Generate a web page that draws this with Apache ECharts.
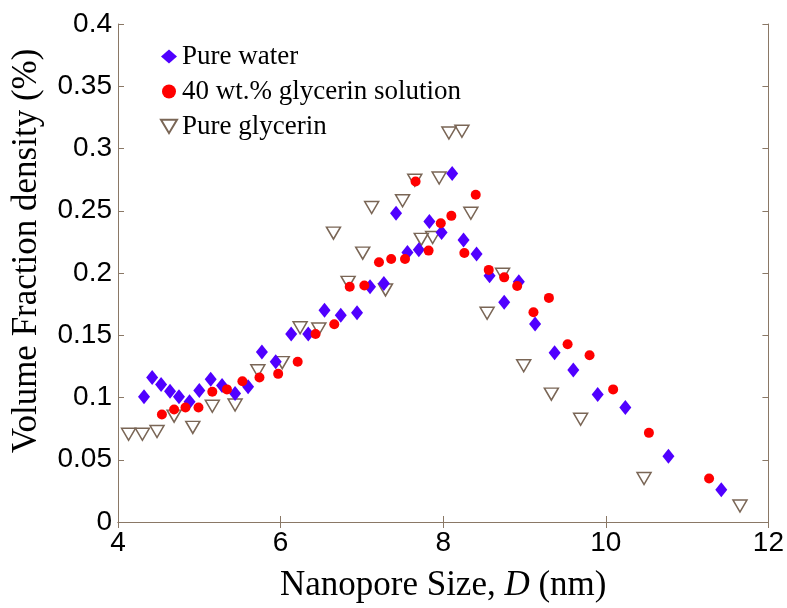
<!DOCTYPE html>
<html>
<head>
<meta charset="utf-8">
<script src="https://cdn.jsdelivr.net/npm/echarts@6/dist/echarts.min.js"></script>
<style>html,body{margin:0;padding:0;background:#fff;}#c{width:787px;height:608px;}</style>
</head>
<body>
<div id="c"></div>
<script>
const waterX = [4.32,4.42,4.53,4.64,4.75,4.88,5.00,5.14,5.28,5.44,5.60,5.77,5.94,6.13,6.34,6.54,6.74,6.94,7.10,7.27,7.42,7.56,7.70,7.83,7.98,8.11,8.25,8.41,8.57,8.75,8.93,9.13,9.37,9.60,9.90,10.24,10.77,11.42];
const waterY = [0.1006,0.116,0.1105,0.105,0.1006,0.0965,0.1057,0.1146,0.1097,0.1033,0.1086,0.1365,0.1287,0.151,0.151,0.170,0.166,0.168,0.189,0.1915,0.248,0.2164,0.2186,0.2413,0.2325,0.280,0.2266,0.2153,0.1978,0.1765,0.193,0.159,0.136,0.122,0.1025,0.092,0.0529,0.026];
const glySolX = [4.54,4.69,4.83,4.99,5.16,5.34,5.53,5.74,5.97,6.21,6.43,6.66,6.85,7.03,7.21,7.36,7.53,7.66,7.82,7.97,8.10,8.26,8.40,8.56,8.75,8.91,9.11,9.30,9.53,9.80,10.09,10.53,11.27];
const glySolY = [0.0864,0.0904,0.092,0.092,0.1046,0.1065,0.113,0.116,0.119,0.1287,0.151,0.1588,0.189,0.190,0.2087,0.2113,0.2113,0.2735,0.218,0.240,0.2459,0.216,0.2628,0.2025,0.1965,0.1896,0.1685,0.180,0.1427,0.134,0.1065,0.0716,0.0349];
const glyX = [4.13,4.30,4.48,4.69,4.92,5.16,5.44,5.72,6.02,6.24,6.47,6.65,6.83,7.01,7.12,7.29,7.50,7.65,7.73,7.87,7.95,8.07,8.23,8.34,8.54,8.73,8.99,9.33,9.69,10.47,11.65];
const glyY = [0.0705,0.0705,0.0727,0.085,0.076,0.093,0.094,0.1215,0.128,0.156,0.155,0.232,0.1925,0.216,0.2526,0.1864,0.258,0.2745,0.227,0.2285,0.2763,0.3125,0.3138,0.248,0.1677,0.199,0.1255,0.1027,0.0825,0.0349,0.0129];
const xTicks = [4,6,8,10,12];
const yTicks = [0,0.05,0.1,0.15,0.2,0.25,0.3,0.35,0.4];

const zip = (xs, ys) => xs.map((x, i) => [x, ys[i]]);
const axisColor = '#8a7866';
const triPath = 'path://M0,0L12,0L6,10Z';
const serif = 'Liberation Serif, Times New Roman, serif';

const chart = echarts.init(document.getElementById('c'), null, {renderer: 'canvas'});
const tickFont = {fontFamily: 'Liberation Sans, Arial, sans-serif', fontSize: 28, color: '#000'};
const mkAxisCommon = {
  axisLine: {show: true, lineStyle: {color: axisColor, width: 1}},
  axisTick: {show: true, inside: true, length: 6, lineStyle: {color: axisColor}},
  splitLine: {show: false}
};
chart.setOption({
  animation: false,
  backgroundColor: '#fff',
  grid: {left: 118, right: 18, top: 24, bottom: 86, containLabel: false},
  legend: {
    data: ['Pure water', '40 wt.% glycerin solution', 'Pure glycerin'],
    orient: 'vertical', left: 155, top: 38, itemGap: 8, itemWidth: 16, itemHeight: 14,
    textStyle: {fontFamily: serif, fontSize: 27, color: '#000'}
  },
  xAxis: [{
    type: 'value', min: 4, max: 12, interval: 2, position: 'bottom',
    name: '{n|Nanopore Size, }{i|D}{n| (nm)}', nameLocation: 'middle', nameGap: 46,
    nameTextStyle: {rich: {
      n: {fontFamily: serif, fontSize: 35, color: '#000'},
      i: {fontFamily: serif, fontSize: 35, fontStyle: 'italic', color: '#000'}
    }},
    axisLabel: Object.assign({margin: 7, formatter: v => (xTicks.indexOf(v) >= 0 ? String(v) : '')}, tickFont),
    ...mkAxisCommon
  }, {
    type: 'value', min: 4, max: 12, interval: 2, position: 'top',
    axisLabel: {show: false}, ...mkAxisCommon
  }],
  yAxis: [{
    type: 'value', min: 0, max: 0.4, interval: 0.05, position: 'left',
    name: 'Volume Fraction density (%)', nameLocation: 'middle', nameGap: 74,
    nameTextStyle: {fontFamily: serif, fontSize: 35, color: '#000', padding: [0, 0, 0, 44]},
    axisLabel: Object.assign({margin: 6, formatter: v => {
      const t = yTicks.find(k => Math.abs(k - v) < 1e-9);
      return t === undefined ? '' : String(t);
    }}, tickFont),
    ...mkAxisCommon
  }, {
    type: 'value', min: 0, max: 0.4, interval: 0.05, position: 'right',
    axisLabel: {show: false}, ...mkAxisCommon
  }],
  series: [
    {name: 'Pure glycerin', type: 'scatter', data: zip(glyX, glyY), symbol: triPath, symbolSize: [14, 12],
     itemStyle: {color: 'rgba(255,255,255,0)', borderColor: '#7a6656', borderWidth: 1.5, opacity: 1}, z: 2},
    {name: 'Pure water', type: 'scatter', data: zip(waterX, waterY), symbol: 'diamond', symbolSize: [12, 15],
     itemStyle: {color: '#5000ff', opacity: 1}, z: 3},
    {name: '40 wt.% glycerin solution', type: 'scatter', data: zip(glySolX, glySolY), symbol: 'circle', symbolSize: 10,
     itemStyle: {color: '#ff0000', opacity: 1}, z: 4}
  ]
});
</script>
</body>
</html>
